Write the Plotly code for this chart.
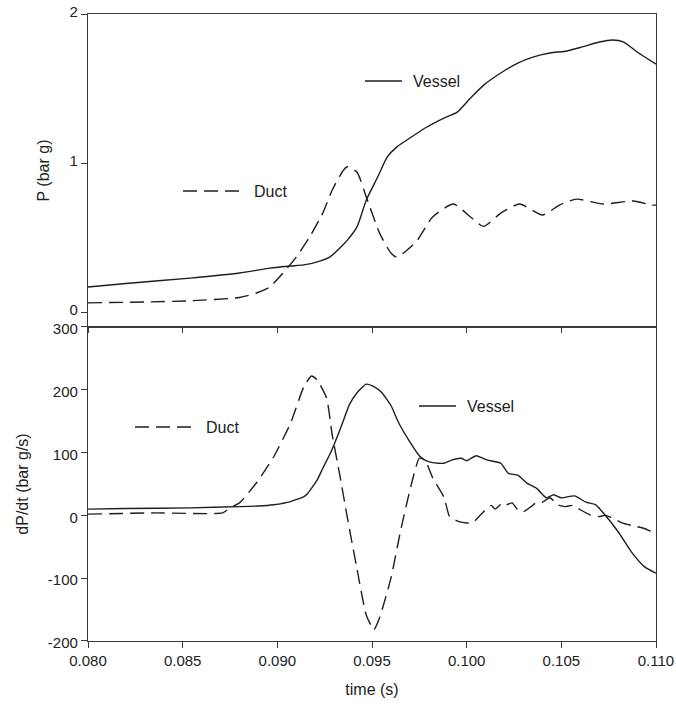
import plotly.graph_objects as go
from plotly.subplots import make_subplots

# ---------------- data ----------------
t_p_vessel = [0.0800, 0.0820, 0.0854, 0.0880, 0.0896, 0.0907, 0.0914, 0.0922, 0.0928,
              0.0933, 0.0937, 0.0942, 0.0944, 0.0947, 0.0953, 0.0958, 0.0963, 0.0970,
              0.0979, 0.0988, 0.0995, 0.1002, 0.1009, 0.1018, 0.1027, 0.1035, 0.1044,
              0.1053, 0.1061, 0.1070, 0.1077, 0.1083, 0.1090, 0.1100]
p_vessel = [0.168, 0.192, 0.228, 0.262, 0.295, 0.309, 0.317, 0.340, 0.372,
            0.430, 0.483, 0.570, 0.638, 0.752, 0.906, 1.040, 1.107, 1.168,
            1.242, 1.302, 1.342, 1.436, 1.523, 1.604, 1.671, 1.711, 1.738,
            1.752, 1.779, 1.812, 1.826, 1.812, 1.745, 1.664]

t_p_duct = [0.0800, 0.0830, 0.0854, 0.0880, 0.0889, 0.0896, 0.0903, 0.0910, 0.0917,
            0.0924, 0.0929, 0.0935, 0.0937, 0.0942, 0.0947, 0.0954, 0.0960, 0.0963,
            0.0967, 0.0974, 0.0982, 0.0993, 0.1002, 0.1009, 0.1018, 0.1028, 0.1040,
            0.1049, 0.1058, 0.1072, 0.1088, 0.1098, 0.1100]
p_duct = [0.062, 0.068, 0.076, 0.098, 0.128, 0.168, 0.262, 0.369, 0.503,
          0.664, 0.819, 0.953, 0.975, 0.940, 0.772, 0.530, 0.396, 0.369,
          0.400, 0.483, 0.638, 0.725, 0.638, 0.575, 0.664, 0.725, 0.651,
          0.718, 0.758, 0.725, 0.745, 0.718, 0.718]

t_d_vessel = [0.0800, 0.0820, 0.0854, 0.0880, 0.0890, 0.0898, 0.0907, 0.0914, 0.0916,
              0.0921, 0.0924, 0.0928, 0.0932, 0.0935, 0.0938, 0.0942, 0.0947, 0.0951,
              0.0955, 0.0960, 0.0964, 0.0970, 0.0975, 0.0978, 0.0982, 0.0988, 0.0992,
              0.0997, 0.1000, 0.1005, 0.1011, 0.1018, 0.1022, 0.1027, 0.1032, 0.1037,
              0.1042, 0.1046, 0.1050, 0.1057, 0.1063, 0.1068, 0.1073, 0.1080, 0.1087,
              0.1094, 0.1100]
d_vessel = [10, 11, 12, 14, 15, 17, 22, 30, 35,
            56, 75, 99, 128, 152, 176, 195, 209, 205,
            196, 175, 148, 117, 95, 88, 84, 83, 88,
            91, 87, 95, 88, 83, 67, 64, 51, 43,
            28, 33, 28, 31, 21, 17, 1, -26, -58,
            -82, -92]

t_d_duct = [0.0800, 0.0836, 0.0871, 0.0875, 0.0880, 0.0889, 0.0898, 0.0907, 0.0914,
            0.0918, 0.0921, 0.0926, 0.0929, 0.0933, 0.0937, 0.0942, 0.0947, 0.0951,
            0.0954, 0.0960, 0.0965, 0.0970, 0.0975, 0.0978, 0.0982, 0.0988, 0.0991,
            0.0996, 0.1000, 0.1003, 0.1009, 0.1013, 0.1015, 0.1019, 0.1021, 0.1024,
            0.1027, 0.1030, 0.1034, 0.1037, 0.1040, 0.1044, 0.1048, 0.1052, 0.1056,
            0.1060, 0.1065, 0.1070, 0.1073, 0.1077, 0.1082, 0.1087, 0.1093, 0.1098,
            0.1100]
d_duct = [2, 4, 4, 12, 20, 52, 93, 147, 205,
          222, 216, 187, 128, 64, -4, -84, -159, -182,
          -163, -100, -26, 40, 91, 88, 60, 29, -2,
          -10, -12, -12, 6, 16, 10, 20, 17, 20,
          9, 6, 14, 21, 21, 28, 17, 14, 16,
          9, 1, -2, 0, -4, -12, -16, -20, -26,
          -28]

x_ticks = [0.080, 0.085, 0.090, 0.095, 0.100, 0.105, 0.110]
x_ticktext = ["0.080", "0.085", "0.090", "0.095", "0.100", "0.105", "0.110"]
p_ticks = [0, 1, 2]
p_ticktext = ["0", "1", "2"]
d_ticks = [-200, -100, 0, 100, 200, 300]
d_ticktext = ["-200", "-100", "0", "100", "200", "300"]

# ---------------- styling ----------------
LINE = "#1e1e1e"
AX = "#3a3a3a"
FONT = "Liberation Sans, Arial, sans-serif"
DASH = "14px,7px"

fig = make_subplots(rows=2, cols=1, vertical_spacing=0)

fig.add_trace(go.Scatter(x=t_p_vessel, y=p_vessel, mode="lines", name="Vessel",
                         line=dict(color=LINE, width=1.4, shape="spline", smoothing=0.6)),
              row=1, col=1)
fig.add_trace(go.Scatter(x=t_p_duct, y=p_duct, mode="lines", name="Duct",
                         line=dict(color=LINE, width=1.4, dash=DASH, shape="spline", smoothing=0.6)),
              row=1, col=1)
fig.add_trace(go.Scatter(x=t_d_vessel, y=d_vessel, mode="lines", name="Vessel",
                         line=dict(color=LINE, width=1.4, shape="spline", smoothing=0.5)),
              row=2, col=1)
fig.add_trace(go.Scatter(x=t_d_duct, y=d_duct, mode="lines", name="Duct",
                         line=dict(color=LINE, width=1.4, dash=DASH, shape="spline", smoothing=0.5)),
              row=2, col=1)

axis_common = dict(showline=True, linecolor=AX, linewidth=1.2, mirror=True,
                   ticks="outside", ticklen=6, tickcolor=AX, tickwidth=1.2,
                   showgrid=False, zeroline=False, automargin=False,
                   tickfont=dict(family=FONT, size=15, color="#222"))
title_font = dict(family=FONT, size=16, color="#222")

fig.update_layout(
    width=676, height=710,
    margin=dict(l=88, r=20, t=14, b=69),
    plot_bgcolor="white", paper_bgcolor="white",
    showlegend=False,
    font=dict(family=FONT, size=15, color="#222"),
    xaxis=dict(axis_common, domain=[0, 1], range=[0.080, 0.110], tickvals=x_ticks,
               showticklabels=False, ticklen=5, anchor="y"),
    yaxis=dict(axis_common, domain=[0.5008, 1], range=[-0.1, 2], tickvals=p_ticks,
               ticktext=p_ticktext, ticklabelshift=-2,
               title=dict(text="P (bar g)", font=title_font)),
    xaxis2=dict(axis_common, domain=[0, 1], range=[0.080, 0.110], tickvals=x_ticks,
                ticktext=x_ticktext, anchor="y2",
                title=dict(text="time (s)", font=title_font)),
    yaxis2=dict(axis_common, domain=[0, 0.5008], range=[-200, 300], tickvals=d_ticks,
                ticktext=d_ticktext, ticklabelshift=2,
                title=dict(text="dP/dt (bar g/s)", font=title_font)),
)

# in-plot legend keys (paper coordinates)
legend_items = [
    ("Vessel", "solid", 0.4877, 0.5528, 0.8931),
    ("Duct", DASH, 0.1673, 0.2729, 0.7177),
    ("Vessel", "solid", 0.5827, 0.6479, 0.3748),
    ("Duct", DASH, 0.0827, 0.1884, 0.3413),
]
for label, dash, x0, x1, y in legend_items:
    fig.add_shape(type="line", xref="paper", yref="paper", x0=x0, x1=x1, y0=y, y1=y,
                  line=dict(color=LINE, width=1.4, dash=dash))
    fig.add_annotation(xref="paper", yref="paper", x=x1 + 0.016, y=y, text=label,
                       showarrow=False, xanchor="left", yanchor="middle",
                       font=dict(family=FONT, size=16, color="#222"))

fig.write_html("out.html")
